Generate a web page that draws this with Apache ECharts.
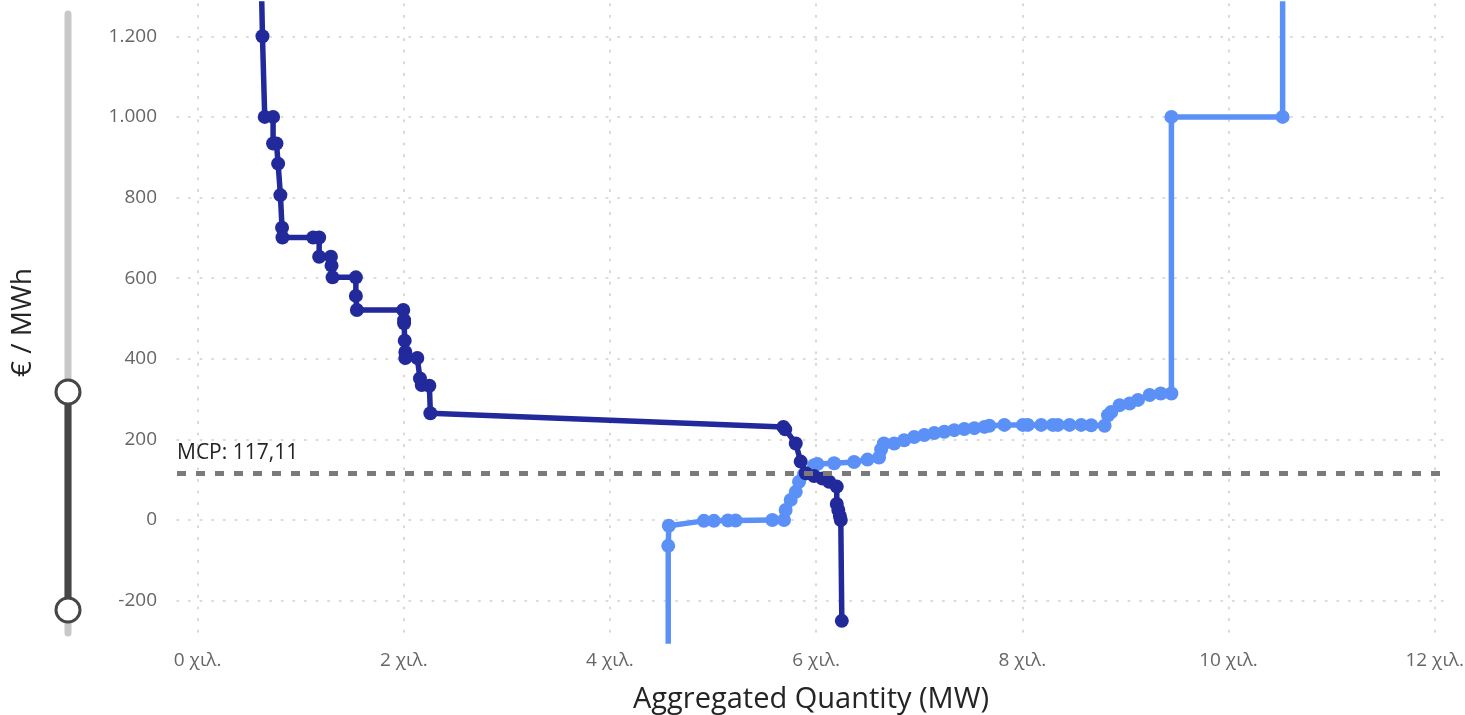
<!DOCTYPE html>
<html>
<head>
<meta charset="utf-8">
<script src="https://cdn.jsdelivr.net/npm/echarts@6/dist/echarts.min.js"></script>
<style>
html,body{margin:0;padding:0;background:#fff;}
#chart{width:1465px;height:715px;}
</style>
</head>
<body>
<div id="chart"></div>
<script>
// Aggregated demand curve (quantity MW, price €/MWh)
const demandQ = [605, 629, 651, 732, 732, 765, 781, 803, 819, 823, 1121, 1179, 1179, 1293, 1299, 1309, 1535, 1535, 1545, 1995, 2003, 2003, 2009, 2015, 2015, 2131, 2157, 2174, 2248, 2258, 5682, 5700, 5802, 5850, 5899, 5980, 6061, 6126, 6200, 6200, 6215, 6230, 6239, 6249];
const demandP = [1500, 1200, 1000, 1000, 934, 934, 884, 806, 725, 701, 701, 701, 653, 653, 631, 602, 602, 556, 521, 521, 496, 488, 445, 417, 402, 402, 351, 335, 333, 265, 231, 225, 190, 145, 116, 109, 103, 95, 83, 40, 25, 10, 0, -250];

// Aggregated supply curve
const supplyQ = [4565, 4565, 4571, 4911, 5008, 5144, 5219, 5575, 5688, 5704, 5753, 5802, 5834, 5883, 5980, 6012, 6174, 6368, 6498, 6610, 6630, 6657, 6757, 6854, 6951, 7049, 7146, 7243, 7340, 7437, 7535, 7632, 7680, 7826, 8005, 8053, 8183, 8296, 8345, 8458, 8571, 8668, 8798, 8831, 8863, 8944, 9041, 9122, 9235, 9342, 9446, 9446, 10525, 10525];
const supplyP = [-500, -64, -14, -2, -2, -1, -1, 0, 0, 25, 50, 70, 95, 114, 136, 139, 141, 144, 150, 155, 175, 190, 190, 198, 206, 211, 216, 219, 223, 226, 228, 231, 234, 236, 236, 236, 236, 236, 236, 236, 236, 235, 234, 260, 268, 285, 289, 298, 310, 314, 314, 1000, 1000, 1500];

const mcp = 117.11;
const yTicks = [-200, 0, 200, 400, 600, 800, 1000, 1200];
const xTicks = [0, 2000, 4000, 6000, 8000, 10000, 12000];

const FONT = '"Open Sans", "Noto Sans", sans-serif';
const demandData = demandQ.map((q, i) => [q, demandP[i]]);
const supplyData = supplyQ.map((q, i) => [q, supplyP[i]]);

const chart = echarts.init(document.getElementById('chart'));
const gridLine = { show: true, lineStyle: { color: '#cfcfcf', width: 1.6, type: [1.6, 10], cap: 'round' } };

chart.setOption({
  animation: false,
  textStyle: { fontFamily: FONT },
  grid: { left: 177, right: 20, top: 4, bottom: 74, containLabel: false, outerBoundsMode: 'none' },
  xAxis: {
    type: 'value', min: -200, max: 12100,
    name: 'Aggregated Quantity (MW)', nameLocation: 'middle', nameGap: 44,
    nameTextStyle: { fontSize: 29, color: '#252423', fontFamily: FONT },
    axisLine: { show: false },
    axisTick: { show: false, customValues: xTicks },
    axisLabel: { customValues: xTicks, color: '#666', fontSize: 19, margin: 10, fontFamily: FONT,
      formatter: v => (v / 1000) + ' χιλ.' },
    splitLine: gridLine
  },
  yAxis: {
    type: 'value', min: -300, max: 1280,
    name: '€ / MWh', nameLocation: 'middle', nameGap: 140, nameRotate: 90,
    nameTextStyle: { fontSize: 28, color: '#252423', fontFamily: FONT },
    axisLine: { show: false },
    axisTick: { show: false, customValues: yTicks },
    axisLabel: { customValues: yTicks, color: '#666', fontSize: 19, margin: 20, fontFamily: FONT,
      formatter: v => String(v).replace(/\B(?=(\d{3})+(?!\d))/g, '.') },
    splitLine: gridLine
  },
  series: [
    {
      name: 'Supply', type: 'line', data: supplyData, clip: true,
      symbol: 'circle', symbolSize: 14, showAllSymbol: true,
      lineStyle: { color: '#5b91f7', width: 5.5 }, itemStyle: { color: '#5b91f7' },
      z: 3,
      markLine: {
        silent: true, symbol: 'none',
        lineStyle: { color: '#7a7a7a', width: 5, type: [9, 10] },
        label: { show: true, position: 'insideStartTop', formatter: 'MCP: 117,11',
          color: '#252423', fontSize: 21, fontFamily: FONT, distance: [0, 9] },
        data: [{ yAxis: mcp }]
      }
    },
    {
      name: 'Demand', type: 'line', data: demandData, clip: true,
      symbol: 'circle', symbolSize: 14, showAllSymbol: true,
      lineStyle: { color: '#22299b', width: 5.5 }, itemStyle: { color: '#22299b' },
      z: 4
    }
  ],
  graphic: [
    { type: 'line', shape: { x1: 68, y1: 14, x2: 68, y2: 633 }, style: { stroke: '#c8c8c8', lineWidth: 7, lineCap: 'round' }, z: 10 },
    { type: 'line', shape: { x1: 68, y1: 392, x2: 68, y2: 610 }, style: { stroke: '#464646', lineWidth: 7 }, z: 11 },
    { type: 'circle', shape: { cx: 68, cy: 392, r: 12 }, style: { fill: '#fff', stroke: '#464646', lineWidth: 3 }, z: 12 },
    { type: 'circle', shape: { cx: 68, cy: 610, r: 12 }, style: { fill: '#fff', stroke: '#464646', lineWidth: 3 }, z: 12 }
  ]
});
</script>
</body>
</html>
